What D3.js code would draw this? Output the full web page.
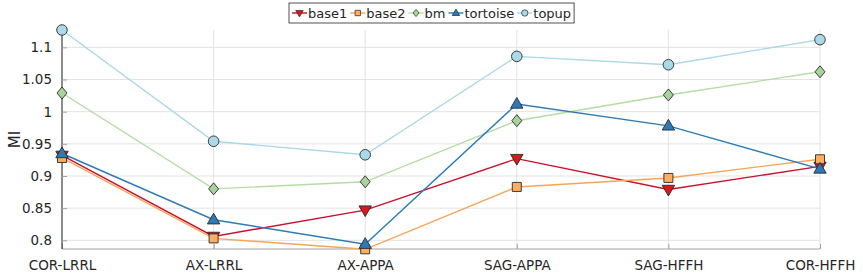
<!DOCTYPE html>
<html>
<head>
<meta charset="utf-8">
<script src="https://cdn.jsdelivr.net/npm/d3@7"></script>
<style>
  body { margin: 0; background: #fff; }
  text { font-family: "DejaVu Sans", sans-serif; }
</style>
</head>
<body>
<div id="viz"></div>
<script>
const width = 863;
const height = 275;
const margin = {top: 30, right: 43, bottom: 26, left: 62};

const categories = ["COR-LRRL", "AX-LRRL", "AX-APPA", "SAG-APPA", "SAG-HFFH", "COR-HFFH"];
const base1 = [0.932, 0.806, 0.847, 0.927, 0.879, 0.915];
const base2 = [0.928, 0.803, 0.786, 0.883, 0.897, 0.926];
const bm = [1.029, 0.880, 0.891, 0.986, 1.026, 1.062];
const tortoise = [0.935, 0.832, 0.794, 1.012, 0.978, 0.911];
const topup = [1.127, 0.954, 0.933, 1.086, 1.073, 1.112];
const yTicks = [0.8, 0.85, 0.9, 0.95, 1, 1.05, 1.1];

const series = [
  { name: "base1", values: base1, line: "#c8102e", fill: "#d7191c", shape: "triDown" },
  { name: "base2", values: base2, line: "#f6a458", fill: "#fdae61", shape: "square" },
  { name: "bm", values: bm, line: "#b4dca4", fill: "#a6d49a", shape: "diamond" },
  { name: "tortoise", values: tortoise, line: "#2c7bb6", fill: "#2c7bb6", shape: "triUp" },
  { name: "topup", values: topup, line: "#a9d8e6", fill: "#abd9e9", shape: "circle" }
];

const svg = d3.select("#viz").append("svg")
  .attr("width", width)
  .attr("height", height);

const x = d3.scalePoint()
  .domain(categories)
  .range([margin.left, width - margin.right]);

const y = d3.scaleLinear()
  .domain([0.7865, 1.127])
  .range([height - margin.bottom, margin.top]);

// grid
svg.append("g").selectAll("line.h")
  .data(yTicks)
  .join("line")
  .attr("x1", margin.left).attr("x2", width - margin.right)
  .attr("y1", d => y(d)).attr("y2", d => y(d))
  .attr("stroke", "#e3e3e3").attr("stroke-width", 1);

svg.append("g").selectAll("line.v")
  .data(categories)
  .join("line")
  .attr("x1", d => x(d)).attr("x2", d => x(d))
  .attr("y1", margin.top).attr("y2", height - margin.bottom)
  .attr("stroke", "#e3e3e3").attr("stroke-width", 1);

// axes
const xAxis = svg.append("g")
  .attr("transform", "translate(0," + (height - margin.bottom) + ")")
  .call(d3.axisBottom(x).tickSize(-5).tickPadding(11));
xAxis.select(".domain").attr("stroke", "#a0a0a0").attr("d", "M" + margin.left + ",0H" + (width - margin.right));
xAxis.selectAll(".tick line").attr("stroke", "#a0a0a0");
xAxis.selectAll("text").attr("font-size", 13.5).attr("fill", "#262626").attr("font-family", "DejaVu Sans");

const yAxis = svg.append("g")
  .attr("transform", "translate(" + margin.left + ",0)")
  .call(d3.axisLeft(y).tickValues(yTicks).tickFormat(d3.format("")).tickSize(-5).tickPadding(10));
yAxis.select(".domain").attr("stroke", "#262626").attr("d", "M0," + (height - margin.bottom) + "V" + margin.top);
yAxis.selectAll(".tick line").attr("stroke", "#a0a0a0");
yAxis.selectAll("text").attr("font-size", 13.5).attr("fill", "#262626").attr("font-family", "DejaVu Sans");

svg.append("text")
  .attr("transform", "translate(20," + (margin.top + (height - margin.bottom - margin.top) / 2) + ") rotate(-90)")
  .attr("text-anchor", "middle")
  .attr("font-size", 15)
  .attr("fill", "#262626")
  .text("MI");

// markers
const markerPath = (shape) => {
  if (shape === "circle") return d3.symbol(d3.symbolCircle, 88)();
  if (shape === "square") return "M-4.5,-4.5H4.5V4.5H-4.5Z";
  if (shape === "diamond") return "M0,-6L5,0L0,6L-5,0Z";
  if (shape === "triUp") return "M0,-6.5L6.2,4.2H-6.2Z";
  if (shape === "triDown") return "M0,6.5L6.2,-4.2H-6.2Z";
};

const line = d3.line()
  .x((d, i) => x(categories[i]))
  .y(d => y(d));

series.forEach(s => {
  const g = svg.append("g");
  g.append("path")
    .attr("d", line(s.values))
    .attr("fill", "none")
    .attr("stroke", s.line)
    .attr("stroke-width", 1.4);
  g.selectAll("path.m")
    .data(s.values)
    .join("path")
    .attr("class", "m")
    .attr("transform", (d, i) => "translate(" + x(categories[i]) + "," + y(d) + ")")
    .attr("d", markerPath(s.shape))
    .attr("fill", s.fill)
    .attr("stroke", "#2a2a2a")
    .attr("stroke-width", 0.9);
});

// legend
const leg = svg.append("g");
const legBox = leg.append("rect")
  .attr("fill", "#fff")
  .attr("stroke", "#262626")
  .attr("stroke-width", 0.8);
let lx = 292;
const ly = 13;
series.forEach(s => {
  leg.append("line")
    .attr("x1", lx).attr("x2", lx + 15)
    .attr("y1", ly).attr("y2", ly)
    .attr("stroke", s.line).attr("stroke-width", 1.4);
  leg.append("path")
    .attr("transform", "translate(" + (lx + 7.5) + "," + ly + ") scale(0.6)")
    .attr("d", markerPath(s.shape))
    .attr("fill", s.fill)
    .attr("stroke", "#2a2a2a")
    .attr("stroke-width", 1.2);
  const t = leg.append("text")
    .attr("x", lx + 16)
    .attr("y", ly + 5)
    .attr("font-size", 13)
    .attr("fill", "#262626")
    .text(s.name);
  lx += 16 + t.node().getComputedTextLength() + 3;
});
legBox.attr("x", 289).attr("y", 3).attr("width", lx - 289).attr("height", 20);
</script>
</body>
</html>
